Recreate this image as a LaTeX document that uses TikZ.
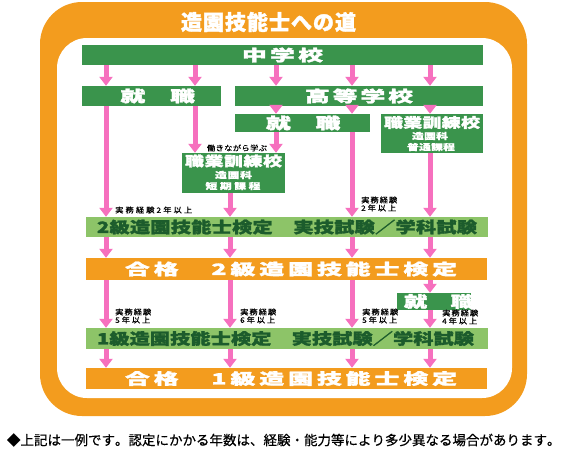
\documentclass[tikz,border=0pt]{standalone}
\usepackage{fontspec}
\usepackage{graphicx}
\setmainfont{Noto Sans CJK JP}
\newfontfamily\jph{Noto Sans CJK JP}[BoldFeatures={FakeBold=1.6}]
\newfontfamily\jpm{Noto Sans CJK JP}[BoldFeatures={FakeBold=0.8}]
\newfontfamily\jpl{Noto Sans CJK JP}[UprightFeatures={FakeBold=0.4}]
\usetikzlibrary{arrows.meta}
\definecolor{orng}{RGB}{243,156,30}
\definecolor{dgreen}{RGB}{58,148,76}
\definecolor{lgreen}{RGB}{141,196,104}
\definecolor{tgreen}{RGB}{28,92,44}
\definecolor{pnk}{RGB}{246,112,190}
\makeatletter
\def\spr@#1#2\@nil{\scalebox{\wsx}[1]{#1}\ifx\relax#2\relax\else\hfil\spr@#2\@nil\fi}
\newcommand\wtext[3]{\def\wsx{#1}\hbox to #2{\spr@#3\@nil}}
\makeatother
\tikzset{
  gbox/.style={fill=dgreen, inner sep=0pt, text=white},
  lbox/.style={fill=lgreen, inner sep=0pt, text=tgreen},
  obox/.style={fill=orng, inner sep=0pt, text=white},
  big/.style={font=\jph\bfseries\fontsize{15.5}{15.5}\selectfont},
  mid/.style={font=\jph\bfseries\fontsize{13.5}{13.5}\selectfont},
  sml/.style={font=\jpm\bfseries\fontsize{8.5}{9}\selectfont},
  lab/.style={inner sep=0pt, text=black, font=\jpl\fontsize{7.5}{8}\selectfont, align=left},
  arr/.style={draw=pnk, line width=5pt, -{Triangle[width=13pt,length=9pt]}}
}
\begin{document}
\begin{tikzpicture}[x=1pt,y=-1pt]
\useasboundingbox (0,0) rectangle (567,456);
% frame
\fill[orng, rounded corners=42pt] (40,2) rectangle (527,416);
\fill[white, rounded corners=30pt] (57,38) rectangle (512,398);
\node[inner sep=0pt, text=white, font=\jph\bfseries\fontsize{21}{21}\selectfont] (title) at (268.5,22) {\wtext{1.0}{175pt}{造園技能士への道}};
% boxes
\node[gbox, big, minimum width=401pt, minimum height=20pt] (ms) at (282.5,55) {\wtext{1.6}{81pt}{中学校}};
\node[gbox, big, minimum width=139pt, minimum height=20pt] (job1) at (151.5,96) {\wtext{1.6}{62pt}{就　職}};
\node[gbox, big, minimum width=248pt, minimum height=20pt] (hs) at (359,96) {\wtext{1.6}{108pt}{高等学校}};
\node[gbox, big, minimum width=135pt, minimum height=18pt] (job2) at (302.5,123) {\wtext{1.6}{73pt}{就　職}};
\node[gbox, minimum width=102pt, minimum height=39pt] (voc1) at (432,133.5) {};
\node[mid, text=white, inner sep=0pt] (voc1a) at (432,122.5) {\wtext{1.4}{96pt}{職業訓練校}};
\node[sml, text=white, inner sep=0pt] (voc1b) at (430,136) {\wtext{1.4}{36pt}{造園科}};
\node[sml, text=white, inner sep=0pt] (voc1c) at (431,147) {\wtext{1.4}{48pt}{普通課程}};
\node[gbox, minimum width=103pt, minimum height=40pt] (voc2) at (233.5,173) {};
\node[mid, text=white, inner sep=0pt] (voc2a) at (233.5,161) {\wtext{1.4}{97pt}{職業訓練校}};
\node[sml, text=white, inner sep=0pt] (voc2b) at (233.5,175) {\wtext{1.4}{37pt}{造園科}};
\node[sml, text=white, inner sep=0pt] (voc2c) at (233,186) {\wtext{1.4}{55pt}{短期課程}};
\node[lbox, big, minimum width=402pt, minimum height=20pt] (ex2) at (287,227) {\wtext{1.3}{380pt}{2級造園技能士検定　実技試験／学科試験}};
\node[obox, big, minimum width=401pt, minimum height=22pt] (pass2) at (286.5,269) {\hspace{9pt}\wtext{1.6}{332pt}{合格　2級造園技能士検定}};
\node[gbox, big, minimum width=74pt, minimum height=17pt] (job3) at (434,301.5) {\wtext{1.5}{60pt}{就　職}};
\node[lbox, big, minimum width=402pt, minimum height=21pt] (ex1) at (287,338.5) {\hspace{-3pt}\wtext{1.3}{377pt}{1級造園技能士検定　実技試験／学科試験}};
\node[obox, big, minimum width=401pt, minimum height=21pt] (pass1) at (286.5,378.5) {\hspace{9pt}\wtext{1.6}{332pt}{合格　1級造園技能士検定}};
% columns
\coordinate (c1) at (106,0);
\coordinate (c2) at (195,0);
\coordinate (c3) at (276,0);
\coordinate (c4) at (352,0);
\coordinate (c5) at (430,0);
\coordinate (c6) at (230,0);
% arrows
\draw[arr] (c1 |- ms.south) -- (c1 |- job1.north);
\draw[arr] (c2 |- ms.south) -- (c2 |- job1.north);
\draw[arr] (c3 |- ms.south) -- (c3 |- hs.north);
\draw[arr] (c4 |- ms.south) -- (c4 |- hs.north);
\draw[arr] (c5 |- ms.south) -- (c5 |- hs.north);
\draw[arr] (c1 |- job1.south) -- (c1 |- ex2.north);
\draw[arr] (c2 |- job1.south) -- (c2 |- voc2.north);
\draw[arr] (c3 |- hs.south) -- (c3 |- job2.north);
\draw[arr] (c4 |- hs.south) -- (c4 |- job2.north);
\draw[arr] (c5 |- hs.south) -- (c5 |- voc1.north);
\draw[arr] (c3 |- job2.south) -- (c3 |- voc2.north);
\draw[arr] (c6 |- voc2.south) -- (c6 |- ex2.north);
\draw[arr] (c4 |- job2.south) -- (c4 |- ex2.north);
\draw[arr] (c5 |- voc1.south) -- (c5 |- ex2.north);
\foreach \c in {c1,c6,c4,c5} {
  \draw[arr] (\c |- ex2.south) -- (\c |- pass2.north);
  \draw[arr] (\c |- ex1.south) -- (\c |- pass1.north);
}
\foreach \c in {c1,c6,c4} {
  \draw[arr] (\c |- pass2.south) -- (\c |- ex1.north);
}
\draw[arr] (c5 |- pass2.south) -- (c5 |- job3.north);
\draw[arr] (c5 |- job3.south) -- (c5 |- ex1.north);
% labels
\node[lab] (l0) at (237,148) {\wtext{1.1}{60pt}{働きながら学ぶ}};
\node[lab, anchor=west] (l1) at (115,210) {\wtext{1.1}{77pt}{実務経験2年以上}};
\node[lab, anchor=west] (l2) at (361,204) {\wtext{1.1}{36pt}{実務経験}\\\wtext{1.1}{35pt}{2年以上}};
\node[lab, anchor=west] (l3) at (115,316) {\wtext{1.1}{36pt}{実務経験}\\\wtext{1.1}{35pt}{5年以上}};
\node[lab, anchor=west] (l4) at (240,316) {\wtext{1.1}{36pt}{実務経験}\\\wtext{1.1}{35pt}{6年以上}};
\node[lab, anchor=west] (l5) at (362,316) {\wtext{1.1}{36pt}{実務経験}\\\wtext{1.1}{35pt}{5年以上}};
\node[lab, anchor=west] (l6) at (442,317) {\wtext{1.1}{36pt}{実務経験}\\\wtext{1.1}{35pt}{4年以上}};
% footer
\node[inner sep=0pt, text=black, font=\jpl\fontsize{13.5}{14}\selectfont] (foot) at (283.5,440) {\wtext{1.0}{553pt}{◆上記は一例です。認定にかかる年数は、経験・能力等により多少異なる場合があります。}};
\end{tikzpicture}
\end{document}
